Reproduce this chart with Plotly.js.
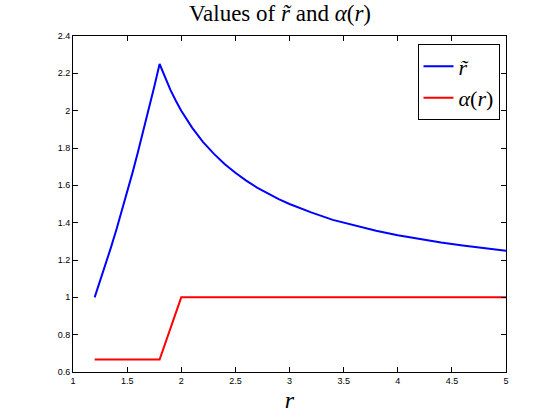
<!DOCTYPE html>
<html>
<head>
<meta charset="utf-8">
<script src="https://cdn.plot.ly/plotly-3.0.1.min.js"></script>
<style>
  body { margin: 0; background: #fff; }
  #chart { width: 560px; height: 420px; }
</style>
</head>
<body>
<div id="chart"></div>
<script>
// r-tilde curve
const rTildeX = [1.2, 1.25, 1.3, 1.35, 1.4, 1.45, 1.5, 1.55, 1.6, 1.65, 1.7, 1.75, 1.8,
                 1.85, 1.9, 1.95, 2.0, 2.1, 2.2, 2.3, 2.4, 2.5, 2.6, 2.7, 2.8, 2.9, 3.0,
                 3.2, 3.4, 3.6, 3.8, 4.0, 4.2, 4.4, 4.6, 4.8, 5.0];
const rTildeY = [1.0, 1.085, 1.174, 1.266, 1.361, 1.46, 1.562, 1.668, 1.778, 1.89, 2.007, 2.127, 2.25,
                 2.176, 2.111, 2.053, 2.0, 1.909, 1.833, 1.77, 1.714, 1.667, 1.625, 1.588, 1.556, 1.526, 1.5,
                 1.455, 1.415, 1.385, 1.357, 1.333, 1.312, 1.294, 1.278, 1.263, 1.25];

// alpha(r)
const alphaX = [1.2, 1.8, 2.0, 5.0];
const alphaY = [0.667, 0.667, 1.0, 1.0];

const xTicks = [1, 1.5, 2, 2.5, 3, 3.5, 4, 4.5, 5];
const yTicks = [0.6, 0.8, 1, 1.2, 1.4, 1.6, 1.8, 2, 2.2, 2.4];

const serif = 'Liberation Serif';

const traces = [
    {x: rTildeX, y: rTildeY, mode: 'lines', name: '<i>r̃</i>',
     line: {color: '#0000ff', width: 2}},
    {x: alphaX, y: alphaY, mode: 'lines', name: '<i>α</i>(<i>r</i>)',
     line: {color: '#ff0000', width: 2}}
];

const axisBase = {
    showgrid: false,
    zeroline: false,
    showline: true,
    mirror: 'ticks',
    linecolor: '#000',
    linewidth: 1,
    ticks: 'inside',
    ticklen: 5,
    tickcolor: '#000',
    tickfont: {family: 'Liberation Sans', size: 9, color: '#000'}
};

const layout = {
    width: 560,
    height: 420,
    margin: {l: 73, r: 54, t: 36, b: 48},
    paper_bgcolor: '#fff',
    plot_bgcolor: '#fff',
    title: {
        text: 'Values of <i>r̃</i> and <i>α</i>(<i>r</i>)',
        font: {family: serif, size: 23, color: '#000'},
        x: 0.5, xanchor: 'center', y: 0.97, yanchor: 'middle'
    },
    xaxis: Object.assign({}, axisBase, {
        range: [1, 5],
        tickvals: xTicks,
        ticktext: xTicks.map(String),
        title: {text: '<i>r</i>', font: {family: serif, size: 24, color: '#000'}, standoff: 6}
    }),
    yaxis: Object.assign({}, axisBase, {
        range: [0.6, 2.4],
        tickvals: yTicks,
        ticktext: yTicks.map(String)
    }),
    showlegend: true,
    legend: {
        x: 0.985, y: 0.975, xanchor: 'right', yanchor: 'top',
        bgcolor: '#fff',
        bordercolor: '#000',
        borderwidth: 1,
        font: {family: serif, size: 22, color: '#000'},
        tracegroupgap: 0
    }
};

Plotly.newPlot('chart', traces, layout, {displayModeBar: false, staticPlot: true});
</script>
</body>
</html>
